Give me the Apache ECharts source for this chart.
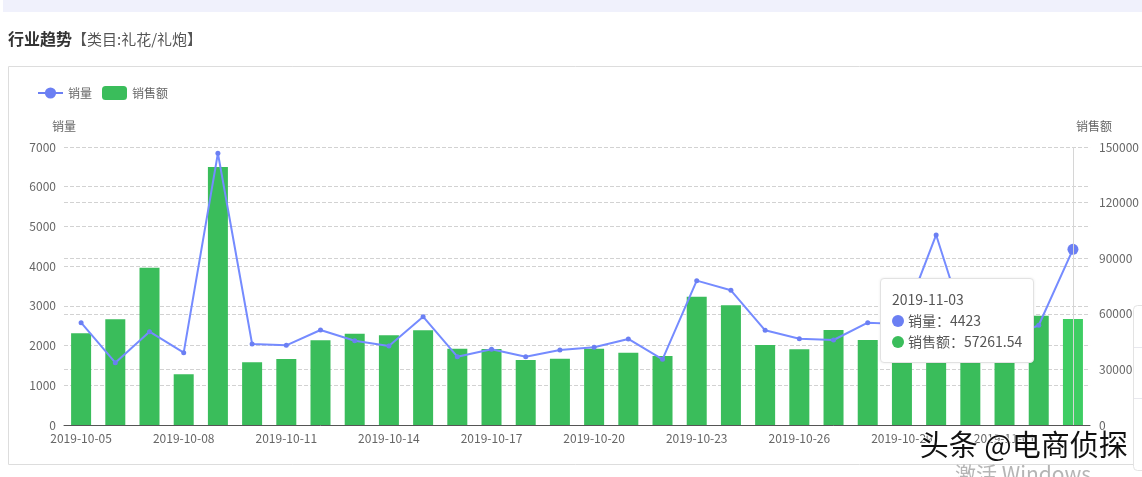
<!DOCTYPE html>
<html>
<head>
<meta charset="utf-8">
<script src="https://cdn.jsdelivr.net/npm/echarts@6/dist/echarts.min.js"></script>
<style>
html,body{margin:0;padding:0;background:#fff;}
#c{width:1142px;height:477px;}
</style>
</head>
<body>
<div id="c"></div>
<script>
const categories = ['2019-10-05','2019-10-06','2019-10-07','2019-10-08','2019-10-09','2019-10-10','2019-10-11','2019-10-12','2019-10-13','2019-10-14','2019-10-15','2019-10-16','2019-10-17','2019-10-18','2019-10-19','2019-10-20','2019-10-21','2019-10-22','2019-10-23','2019-10-24','2019-10-25','2019-10-26','2019-10-27','2019-10-28','2019-10-29','2019-10-30','2019-10-31','2019-11-01','2019-11-02','2019-11-03'];
const salesVolume = [2576,1569,2350,1821,6842,2040,2006,2392,2123,1989,2728,1721,1905,1721,1889,1956,2166,1654,3635,3391,2384,2174,2140,2577,2540,4785,2090,2150,2511,4423];
const salesAmount = [49480,57030,84880,27350,139220,33830,35610,45690,49270,48400,51100,41170,41010,35070,35780,41170,39010,37230,69230,64590,43170,40850,51260,45870,44000,48000,42000,46000,58980,57261.54];
const leftTicks = {min:0, max:7000, interval:1000};
const rightTicks = {min:0, max:150000, interval:30000};

const FONT = '"Microsoft YaHei","Noto Sans CJK SC","Noto Sans",sans-serif';
const chart = echarts.init(document.getElementById('c'));
chart.setOption({
  animation:false,
  textStyle:{fontFamily:FONT},
  title:{
    left:3, top:26,
    text:'{a|行业趋势}{b|【类目:礼花/礼炮】}',
    textStyle:{rich:{
      a:{fontSize:16,fontWeight:'bold',color:'#333',fontFamily:FONT},
      b:{fontSize:15,fontWeight:'normal',color:'#555',fontFamily:FONT}
    }}
  },
  graphic:[
    {type:'rect',shape:{x:3,y:0,width:1142,height:12},style:{fill:'#f0f1fc'},silent:true,z:-10},
    {type:'rect',shape:{x:8.5,y:66.5,width:1150,height:398},style:{fill:'none',stroke:'#dddddd',lineWidth:1},silent:true,z:-10},
    {type:'rect',shape:{x:1133.5,y:305.5,width:30,height:165,r:4},style:{fill:'#fff',stroke:'#e3e3e3',lineWidth:1},silent:true,z:-5},
    {type:'line',shape:{x1:1134,y1:347.5,x2:1142,y2:347.5},style:{stroke:'#e8e8ee',lineWidth:1},silent:true},
    {type:'line',shape:{x1:1134,y1:398.5,x2:1142,y2:398.5},style:{stroke:'#e8e8ee',lineWidth:1},silent:true},
    {type:'text',left:919,top:430,z:100,silent:true,
      style:{text:'头条 @电商侦探',font:'29px '+FONT,fill:'#111',stroke:'#ffffff',lineWidth:1.5}},
    {type:'text',left:955,top:464,z:100,silent:true,
      style:{text:'激活 Windows',font:'21px '+FONT,fill:'rgba(150,150,150,0.7)'}}
  ],
  legend:{
    left:32, top:81, itemGap:10, itemWidth:25, itemHeight:14,
    textStyle:{color:'#666',fontSize:12},
    itemStyle:{borderWidth:0},
    data:['销量','销售额']
  },
  tooltip:{
    trigger:'axis',
    triggerOn:'none',
    alwaysShowContent:true,
    axisPointer:{type:'line',lineStyle:{color:'#d6d6d6',width:1,type:'solid'}},
    position:function(){return [880,278];},
    backgroundColor:'#fff',
    borderColor:'#e2e2e2',
    borderWidth:1,
    padding:[10,11],
    extraCssText:'box-shadow:0 0 3px rgba(0,0,0,0.08);border-radius:4px;',
    textStyle:{fontSize:14,color:'#555',fontFamily:FONT},
    formatter:function(ps){
      let s='<div style="line-height:21px">'+ps[0].name;
      ps.forEach(p=>{
        s+='<br/><span style="display:inline-block;width:12px;height:12px;border-radius:6px;background:'+p.color+';margin-right:4px;vertical-align:-1px"></span>'+p.seriesName+'：'+p.value;
      });
      return s+'</div>';
    }
  },
  grid:{left:64,right:48,top:147,bottom:52},
  xAxis:{
    type:'category', data:categories,
    axisLine:{lineStyle:{color:'#555'}},
    axisTick:{show:false},
    axisLabel:{color:'#666',fontSize:12,interval:2,margin:7}
  },
  yAxis:[
    {type:'value',name:'销量',min:leftTicks.min,max:leftTicks.max,interval:leftTicks.interval,
      nameGap:15,nameTextStyle:{color:'#666',fontSize:12},
      axisLine:{show:false},axisTick:{show:false},
      axisLabel:{color:'#666',fontSize:12,margin:8,formatter:v=>String(v)},
      splitLine:{lineStyle:{type:'dashed',color:'#d2d2d2'}}},
    {type:'value',name:'销售额',min:rightTicks.min,max:rightTicks.max,interval:rightTicks.interval,
      nameGap:15,nameTextStyle:{color:'#666',fontSize:12,padding:[0,0,0,8]},
      axisLine:{show:false},axisTick:{show:false},
      axisLabel:{color:'#666',fontSize:12,margin:9,formatter:v=>String(v)},
      splitLine:{lineStyle:{type:'dashed',color:'#d2d2d2'}}}
  ],
  series:[
    {name:'销量',type:'line',yAxisIndex:0,data:salesVolume,z:5,
      symbol:'circle',symbolSize:5,
      itemStyle:{color:'#6b7ff3'},
      lineStyle:{color:'#6b7ff3',width:2},
      emphasis:{scale:2.2,itemStyle:{borderWidth:0,color:'#6b7ff3'}}},
    {name:'销售额',type:'bar',yAxisIndex:1,data:salesAmount,barWidth:20,
      itemStyle:{color:'#3abd5b'},
      emphasis:{itemStyle:{color:'#3ecd63'}}}
  ]
});
chart.dispatchAction({type:'showTip',seriesIndex:0,dataIndex:29});
chart.dispatchAction({type:'highlight',seriesIndex:1,dataIndex:29});
</script>
</body>
</html>
